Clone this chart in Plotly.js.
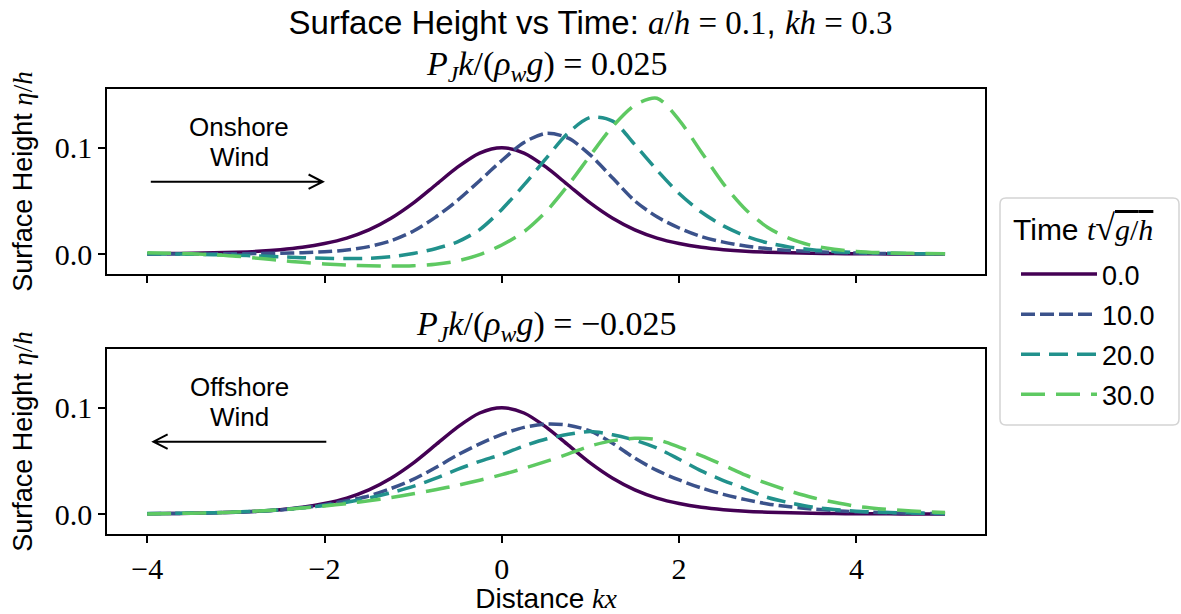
<!DOCTYPE html>
<html><head><meta charset="utf-8">
<script src="https://cdn.plot.ly/plotly-3.0.1.min.js"></script>
<style>html,body{margin:0;padding:0;background:#fff}#chart{width:1181px;height:614px}</style>
</head><body><div id="chart"></div>
<script>
// Distance kx
const kx = [-4,-3.75,-3.5,-3.25,-3,-2.75,-2.5,-2.25,-2,-1.75,-1.5,-1.25,-1,-0.75,-0.5,-0.25,0,0.25,0.5,0.75,1,1.25,1.5,1.75,2,2.25,2.5,2.75,3,3.25,3.5,3.75,4,4.25,4.5,4.75,5];
const timeLabels = ['0.0','10.0','20.0','30.0'];

// Onshore wind, P_J k/(rho_w g) = 0.025
const onshore_t0  = [0.0003,0.0004,0.0007,0.0011,0.0017,0.0026,0.0041,0.0064,0.0099,0.0150,0.0227,0.0336,0.0478,0.0647,0.0817,0.0950,0.1000,0.0950,0.0817,0.0647,0.0478,0.0336,0.0227,0.0150,0.0099,0.0064,0.0041,0.0026,0.0017,0.0011,0.0007,0.0004,0.0003,0.0002,0.0001,0.0001,0.0000];
const onshore_t10 = [0.0000,0.0001,0.0001,0.0002,0.0003,0.0005,0.0008,0.0013,0.0021,0.0038,0.0070,0.0125,0.0215,0.0345,0.0505,0.0690,0.0880,0.1050,0.1135,0.1090,0.0930,0.0715,0.0500,0.0350,0.0245,0.0165,0.0112,0.0076,0.0050,0.0034,0.0022,0.0015,0.0010,0.0006,0.0004,0.0002,0.0001];
const onshore_t20 = [0.0003,0.0001,-0.0002,-0.0006,-0.0011,-0.0018,-0.0026,-0.0034,-0.0040,-0.0043,-0.0040,-0.0025,0.0005,0.0050,0.0115,0.0230,0.0420,0.0650,0.0900,0.1140,0.1285,0.1250,0.1030,0.0790,0.0570,0.0395,0.0265,0.0170,0.0105,0.0065,0.0040,0.0025,0.0015,0.0009,0.0005,0.0003,0.0002];
const onshore_t30 = [0.0012,0.0008,0.0002,-0.0008,-0.0020,-0.0040,-0.0060,-0.0078,-0.0093,-0.0104,-0.0110,-0.0113,-0.0110,-0.0095,-0.0065,-0.0005,0.0085,0.0210,0.0400,0.0650,0.0930,0.1200,0.1400,0.1465,0.1260,0.0960,0.0660,0.0420,0.0250,0.0145,0.0080,0.0045,0.0025,0.0014,0.0008,0.0005,0.0003];

// Offshore wind, P_J k/(rho_w g) = -0.025
const offshore_t0  = [0.0003,0.0004,0.0007,0.0011,0.0017,0.0026,0.0041,0.0064,0.0099,0.0150,0.0227,0.0336,0.0478,0.0647,0.0817,0.0950,0.1000,0.0950,0.0817,0.0647,0.0478,0.0336,0.0227,0.0150,0.0099,0.0064,0.0041,0.0026,0.0017,0.0011,0.0007,0.0004,0.0003,0.0002,0.0001,0.0001,0.0000];
const offshore_t10 = [0.0003,0.0005,0.0007,0.0011,0.0017,0.0025,0.0038,0.0058,0.0088,0.0125,0.0170,0.0240,0.0325,0.0435,0.0555,0.0660,0.0750,0.0815,0.0845,0.0835,0.0780,0.0665,0.0525,0.0410,0.0320,0.0245,0.0185,0.0135,0.0095,0.0068,0.0047,0.0032,0.0021,0.0014,0.0009,0.0006,0.0004];
const offshore_t20 = [0.0004,0.0006,0.0009,0.0013,0.0019,0.0028,0.0040,0.0058,0.0080,0.0110,0.0150,0.0200,0.0260,0.0335,0.0420,0.0495,0.0560,0.0640,0.0705,0.0750,0.0775,0.0745,0.0695,0.0620,0.0515,0.0405,0.0315,0.0235,0.0155,0.0105,0.0065,0.0042,0.0027,0.0018,0.0012,0.0008,0.0005];
const offshore_t30 = [0.0000,0.0004,0.0008,0.0012,0.0018,0.0028,0.0040,0.0056,0.0075,0.0098,0.0124,0.0155,0.0190,0.0228,0.0270,0.0318,0.0370,0.0430,0.0495,0.0565,0.0640,0.0690,0.0712,0.0700,0.0630,0.0550,0.0460,0.0365,0.0285,0.0215,0.0155,0.0110,0.0072,0.0050,0.0035,0.0023,0.0015];

const onshore = [onshore_t0, onshore_t10, onshore_t20, onshore_t30];
const offshore = [offshore_t0, offshore_t10, offshore_t20, offshore_t30];

const colors = ['#440154','#3b528b','#21918c','#5ec962'];
const dashes = ['solid','14px,5px','19px,9px','24px,11px'];

const SANS = 'Liberation Sans, Arial, sans-serif';
const SERIF = 'Liberation Serif, Times New Roman, serif';
const sans = t => `<span style="font-family:${SANS}">${t}</span>`;

const traces = [];
onshore.forEach((ys, i) => traces.push({
  x: kx, y: ys, xaxis: 'x', yaxis: 'y', type: 'scatter', mode: 'lines',
  name: timeLabels[i], legendgroup: 'g' + i, showlegend: true,
  line: {color: colors[i], width: 3.5, dash: dashes[i], shape: 'spline', smoothing: 0.8}
}));
offshore.forEach((ys, i) => traces.push({
  x: kx, y: ys, xaxis: 'x2', yaxis: 'y2', type: 'scatter', mode: 'lines',
  name: timeLabels[i], legendgroup: 'g' + i, showlegend: false,
  line: {color: colors[i], width: 3.5, dash: dashes[i], shape: 'spline', smoothing: 0.8}
}));

const W = 1181, H = 614;
const px = v => v / W, py = v => 1 - v / H;

const xdom = [0.0909, 0.8340];
const yr = [-0.0188, 0.1552];
const axBase = {
  showline: true, mirror: true, linecolor: '#000', linewidth: 2,
  ticks: 'outside', ticklen: 7, tickwidth: 2, tickcolor: '#000',
  showgrid: false, zeroline: false,
  tickfont: {family: SERIF, size: 30, color: '#000'}
};
const ytitle = {text: sans('Surface Height ') + '<i>η</i>/<i>h</i>', font: {family: SERIF, size: 27, color: '#000'}, standoff: 14};

// arrows (in data coordinates)
const ay = 0.068, hx = 0.16, hy = 0.0068;
const arrowTop = {type: 'path', xref: 'x', yref: 'y',
  path: `M -3.96,${ay} L -2.02,${ay} M ${-2.02-hx},${ay+hy} L -2.02,${ay} L ${-2.02-hx},${ay-hy}`,
  line: {color: '#000', width: 2}};
const arrowBot = {type: 'path', xref: 'x2', yref: 'y2',
  path: `M -1.98,${ay} L -3.93,${ay} M ${-3.93+hx},${ay+hy} L -3.93,${ay} L ${-3.93+hx},${ay-hy}`,
  line: {color: '#000', width: 2}};

// legend frame (rounded rectangle, paper coordinates)
const bx0 = 1000, bx1 = 1179, by0 = 198, by1 = 425, r = 6;
const legendFrame = {type: 'path', xref: 'paper', yref: 'paper', layer: 'above',
  path: `M ${px(bx0+r)},${py(by0)} L ${px(bx1-r)},${py(by0)} Q ${px(bx1)},${py(by0)} ${px(bx1)},${py(by0+r)} ` +
        `L ${px(bx1)},${py(by1-r)} Q ${px(bx1)},${py(by1)} ${px(bx1-r)},${py(by1)} ` +
        `L ${px(bx0+r)},${py(by1)} Q ${px(bx0)},${py(by1)} ${px(bx0)},${py(by1-r)} ` +
        `L ${px(bx0)},${py(by0+r)} Q ${px(bx0)},${py(by0)} ${px(bx0+r)},${py(by0)} Z`,
  line: {color: '#d4d4d4', width: 1.5}, fillcolor: 'rgba(255,255,255,0.9)'};

const ann = (text, x, y, xref, yref, size, family, xanchor) => ({text, x, y, xref, yref, showarrow: false,
  xanchor: xanchor || 'center', yanchor: 'middle', font: {family, size, color: '#000'}});

const layout = {
  width: W, height: H,
  margin: {l: 0, r: 0, t: 0, b: 0},
  paper_bgcolor: '#fff', plot_bgcolor: '#fff',
  showlegend: true,
  title: {
    text: sans('Surface Height vs Time: ') + '<i>a</i>/<i>h</i> = 0.1' + sans(', ') + '<i>kh</i> = 0.3',
    font: {family: SERIF, size: 33, color: '#000'},
    x: 0.5, xanchor: 'center', y: 1 - 22/614, yanchor: 'middle', yref: 'container'
  },
  xaxis: Object.assign({}, axBase, {domain: xdom, anchor: 'y', range: [-4.45, 5.45],
    tickvals: [-4,-2,0,2,4], showticklabels: false}),
  xaxis2: Object.assign({}, axBase, {domain: xdom, anchor: 'y2', range: [-4.45, 5.45], matches: 'x',
    tickvals: [-4,-2,0,2,4], ticktext: ['−4','−2','0','2','4'],
    title: {text: sans('Distance ') + '<i>kx</i>', font: {family: SERIF, size: 28, color: '#000'}, standoff: 8}}),
  yaxis: Object.assign({}, axBase, {domain: [0.5537, 0.8550], anchor: 'x', range: yr,
    tickvals: [0, 0.1], ticktext: ['0.0','0.1'], title: ytitle}),
  yaxis2: Object.assign({}, axBase, {domain: [0.1303, 0.4316], anchor: 'x2', range: yr,
    tickvals: [0, 0.1], ticktext: ['0.0','0.1'], title: ytitle}),
  legend: {
    x: px(1016), y: py(250), xanchor: 'left', yanchor: 'top',
    bgcolor: 'rgba(0,0,0,0)', borderwidth: 0,
    font: {family: SANS, size: 27, color: '#000'},
    tracegroupgap: 2, itemwidth: 76
  },
  shapes: [arrowTop, arrowBot, legendFrame],
  annotations: [
    ann('<i>P</i><sub><i>J</i></sub><i>k</i>/(<i>ρ</i><sub><i>w</i></sub><i>g</i>) = 0.025', 0.4624, 1 - 66/614, 'paper', 'paper', 34, SERIF),
    ann('<i>P</i><sub><i>J</i></sub><i>k</i>/(<i>ρ</i><sub><i>w</i></sub><i>g</i>) = −0.025', 0.4624, 1 - 326/614, 'paper', 'paper', 34, SERIF),
    ann('Onshore', -2.96, 0.1198, 'x', 'y', 26, SANS),
    ann('Wind', -2.96, 0.091, 'x', 'y', 26, SANS),
    ann('Offshore', -2.96, 0.1198, 'x2', 'y2', 26, SANS),
    ann('Wind', -2.96, 0.091, 'x2', 'y2', 26, SANS),
    ann(sans('Time ') + '<i>t</i><span style="font-size:36px">√</span><span style="text-decoration:overline"><i>g</i>/<i>h</i></span>',
        px(1011), py(228), 'paper', 'paper', 30, SERIF, 'left')
  ]
};

Plotly.newPlot('chart', traces, layout, {displayModeBar: false, responsive: false});
</script>
</body></html>
